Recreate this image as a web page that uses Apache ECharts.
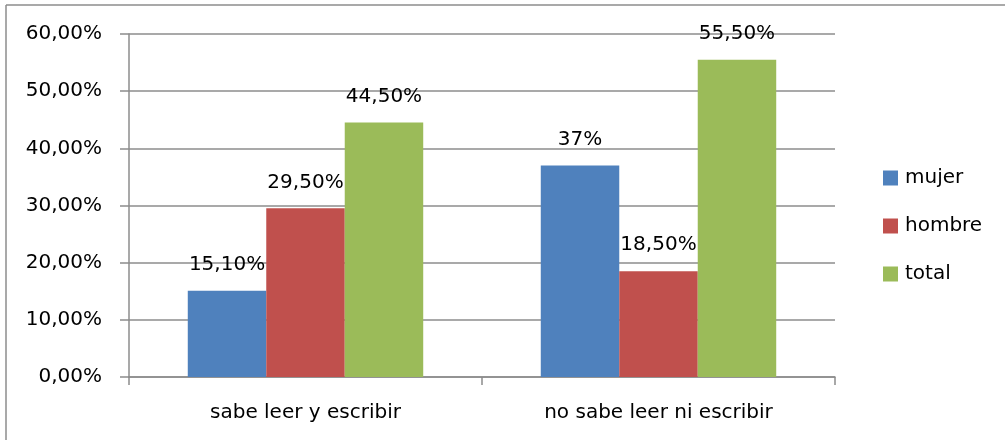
<!DOCTYPE html>
<html>
<head>
<meta charset="utf-8">
<script src="https://cdn.jsdelivr.net/npm/echarts@6/dist/echarts.min.js"></script>
<style>
html,body{margin:0;padding:0;background:#fff;}
#chart{width:1005px;height:440px;}
</style>
</head>
<body>
<div id="chart"></div>
<script>
const categories = ["sabe leer y escribir", "no sabe leer ni escribir"];
const seriesNames = ["mujer", "hombre", "total"];
const mujer = [15.1, 37];
const hombre = [29.5, 18.5];
const total = [44.5, 55.5];
const mujerLabels = ["15,10%", "37%"];
const hombreLabels = ["29,50%", "18,50%"];
const totalLabels = ["44,50%", "55,50%"];
const colors = ["#4F81BD", "#C0504D", "#9BBB59"];

const FONT = "DejaVu Sans";
const chart = echarts.init(document.getElementById('chart'));

function mkSeries(name, values, labels, color) {
  return {
    name: name,
    type: 'bar',
    data: values,
    barGap: '0%',
    barCategoryGap: '33.3%',
    itemStyle: { color: color },
    label: {
      show: true,
      position: 'top',
      distance: 16,
      color: '#000',
      fontFamily: FONT,
      fontSize: 20,
      lineHeight: 20,
      formatter: p => labels[p.dataIndex]
    }
  };
}

chart.setOption({
  animation: false,
  textStyle: { fontFamily: FONT },
  graphic: [
    { type: 'line', shape: { x1: 6, y1: 5, x2: 1005, y2: 5 }, style: { stroke: '#8C8C8C', lineWidth: 1.5 }, silent: true },
    { type: 'line', shape: { x1: 6, y1: 5, x2: 6, y2: 440 }, style: { stroke: '#8C8C8C', lineWidth: 1.5 }, silent: true }
  ],
  grid: { left: 129, right: 170, top: 34, bottom: 63 },
  legend: {
    orient: 'vertical',
    left: 878,
    top: 163,
    itemWidth: 15,
    itemHeight: 15,
    itemGap: 28,
    icon: 'rect',
    data: seriesNames,
    textStyle: { fontFamily: FONT, fontSize: 20, color: '#000', padding: [0, 0, 0, 2] }
  },
  xAxis: {
    type: 'category',
    data: categories,
    axisLine: { show: true, lineStyle: { color: '#8C8C8C', width: 1.5 } },
    axisTick: { show: true, length: 8, alignWithLabel: false, lineStyle: { color: '#8C8C8C', width: 1.5 } },
    axisLabel: { color: '#000', fontFamily: FONT, fontSize: 20, margin: 26 }
  },
  yAxis: {
    type: 'value',
    min: 0,
    max: 60,
    interval: 10,
    axisLine: { show: true, lineStyle: { color: '#8C8C8C', width: 1.5 } },
    axisTick: { show: true, length: 9, lineStyle: { color: '#8C8C8C', width: 1.5 } },
    splitLine: { show: true, lineStyle: { color: '#8C8C8C', width: 1.5 } },
    axisLabel: {
      color: '#000', fontFamily: FONT, fontSize: 20, margin: 27,
      formatter: v => v.toFixed(2).replace('.', ',') + '%'
    }
  },
  series: [
    mkSeries(seriesNames[0], mujer, mujerLabels, colors[0]),
    mkSeries(seriesNames[1], hombre, hombreLabels, colors[1]),
    mkSeries(seriesNames[2], total, totalLabels, colors[2])
  ]
});
</script>
</body>
</html>
